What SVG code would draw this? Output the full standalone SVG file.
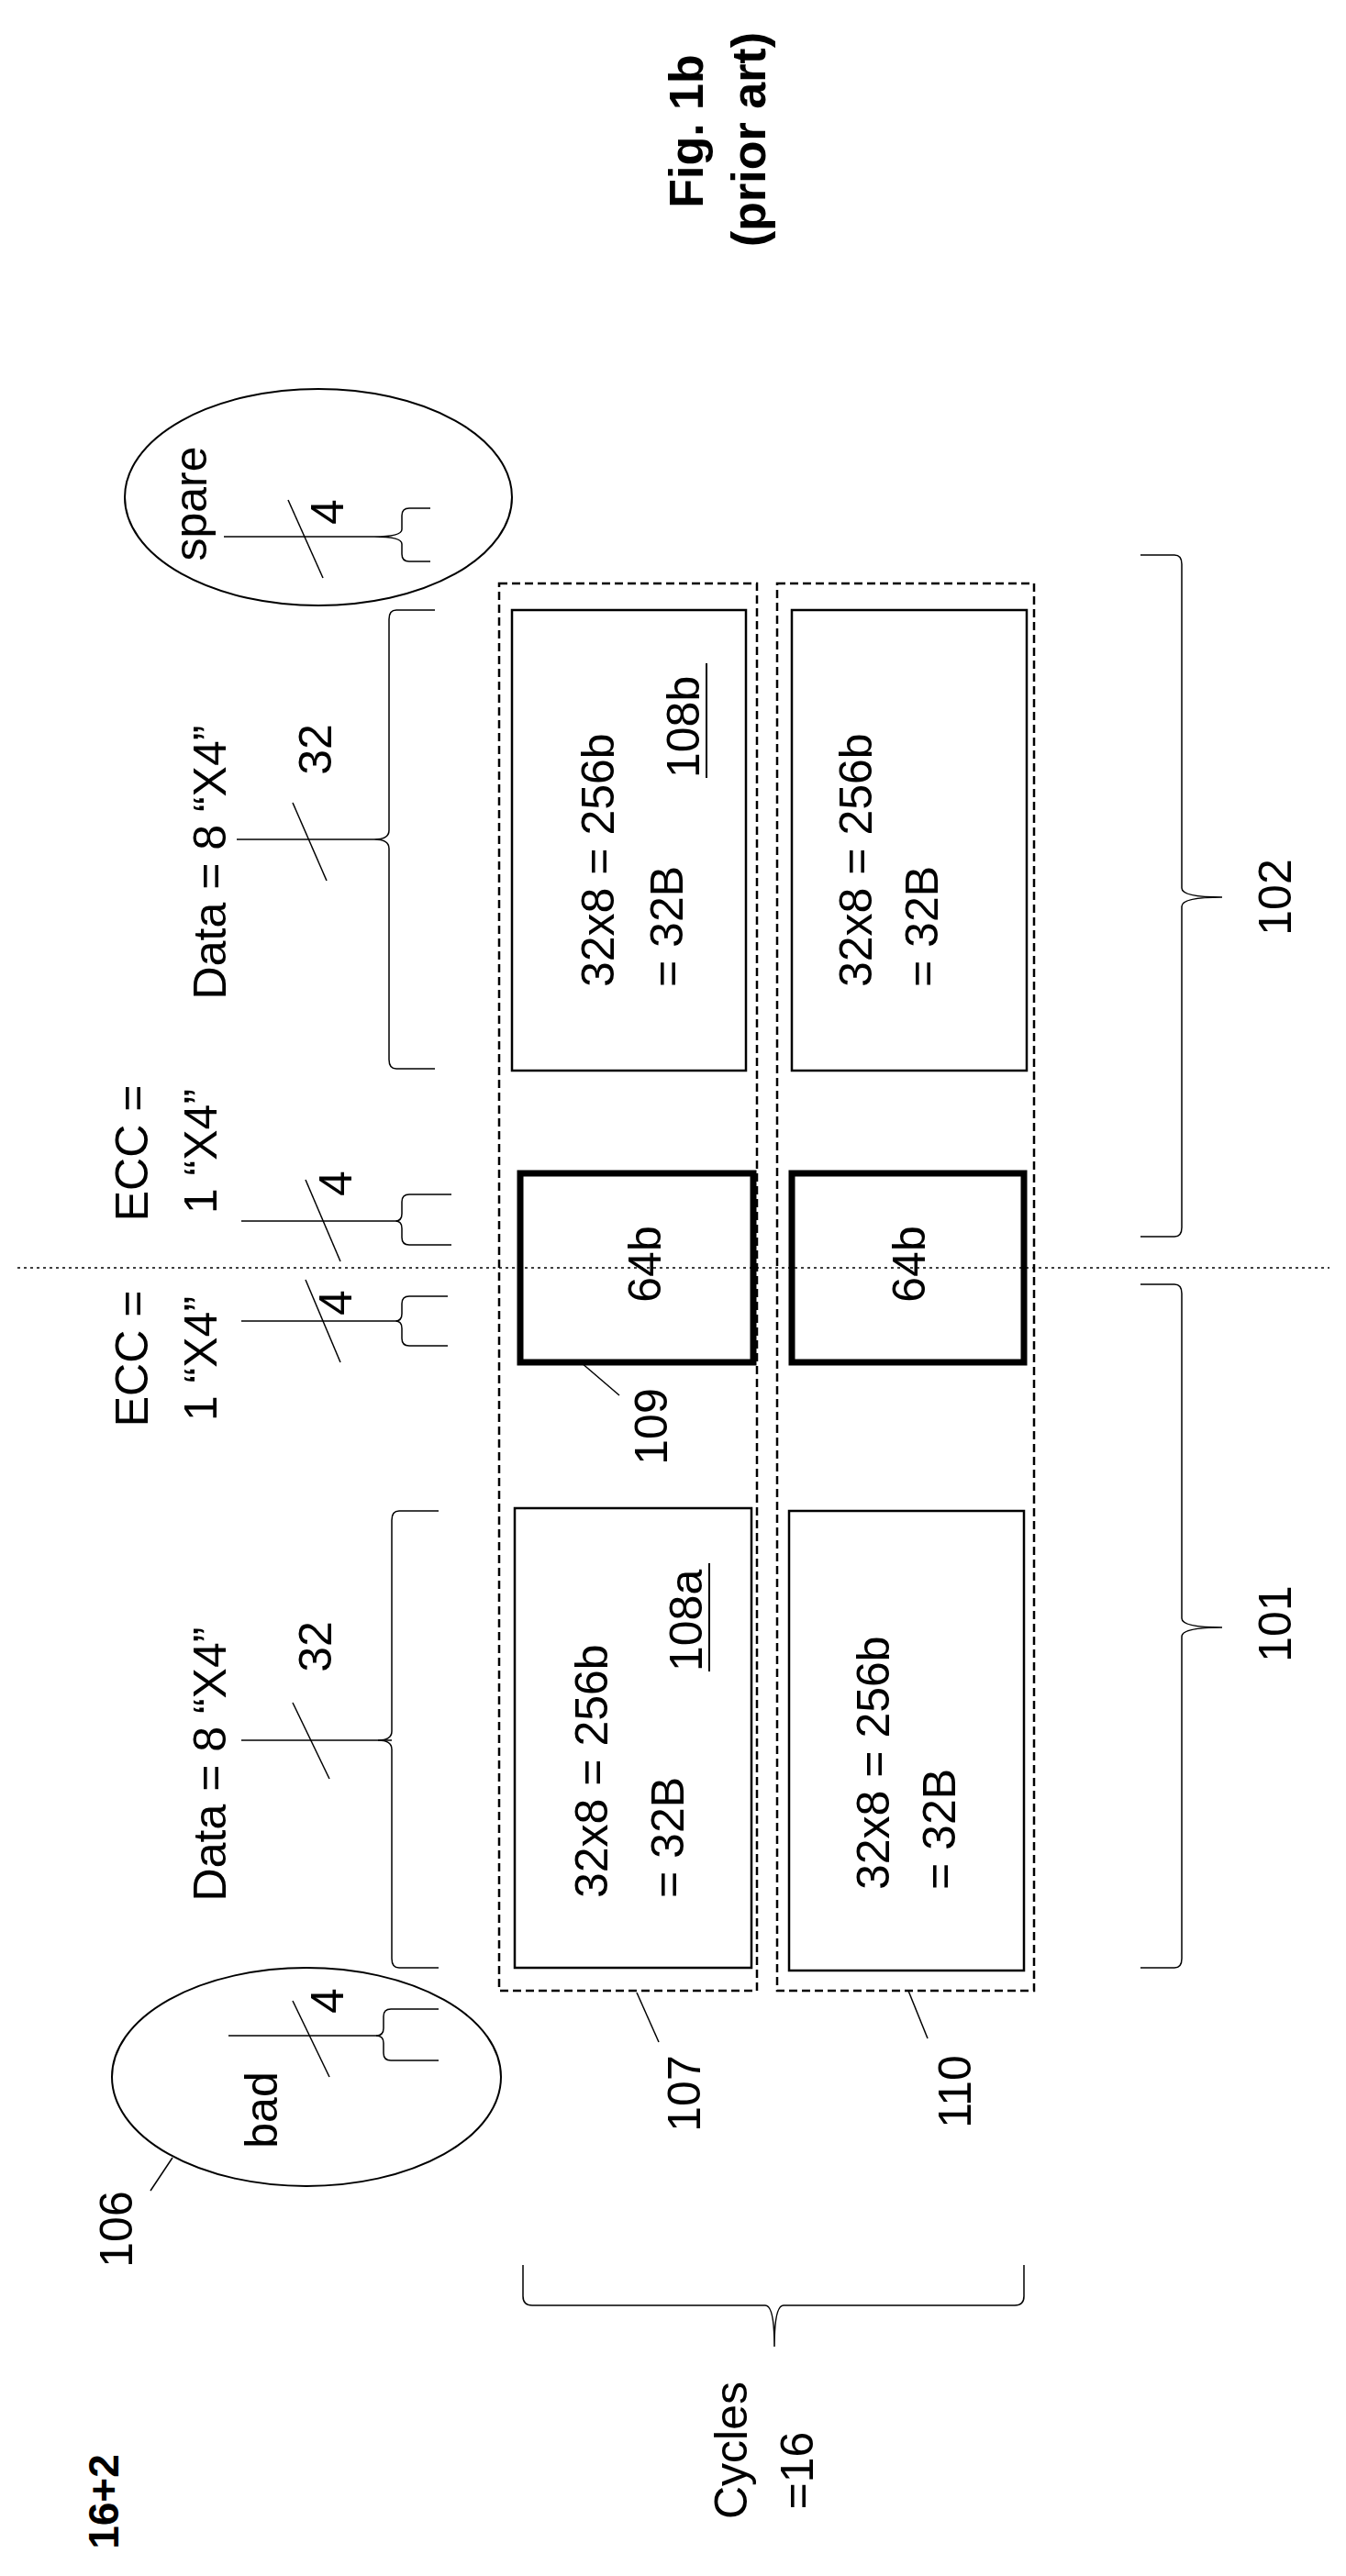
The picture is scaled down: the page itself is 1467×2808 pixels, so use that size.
<svg xmlns="http://www.w3.org/2000/svg" width="1467" height="2808" viewBox="0 0 1467 2808">
<style>
text{font-family:"Liberation Sans",Arial,sans-serif;font-size:50px;fill:#000}
.b{font-weight:bold;font-size:52px}
.ln{stroke:#000;stroke-width:2;fill:none}
.th{stroke:#000;stroke-width:1.5;fill:none}
.ds{stroke:#000;stroke-width:2.5;fill:none;stroke-dasharray:9,5}
.bx{stroke:#000;stroke-width:2.5;fill:#fff}
.tk{stroke:#000;stroke-width:7;fill:#fff}
</style>
<rect width="1467" height="2808" fill="#fff"/>
<g id="title">
<text class="b" text-anchor="middle" transform="translate(766,143) rotate(-90)">Fig. 1b</text>
<text class="b" text-anchor="middle" transform="translate(834,152) rotate(-90)">(prior art)</text>
<text class="b" text-anchor="middle" transform="translate(129,2727) rotate(-90)" style="font-size:46px">16+2</text>
</g>
<g id="dashed-rows">
<rect id="r107" class="ds" x="544" y="636" width="281" height="1534"/>
<rect id="r110" class="ds" x="847" y="636" width="280" height="1534"/>
</g>
<g id="blocks">
<g id="b108b"><rect class="bx" x="558" y="665" width="255" height="502"/>
<text transform="translate(669,1076) rotate(-90)">32x8 = 256b</text>
<text transform="translate(744,1076) rotate(-90)">= 32B</text>
<text transform="translate(762,848) rotate(-90)">108b</text>
<line class="ln" x1="770" y1="723" x2="770" y2="848"/></g>
<g id="b108b2"><rect class="bx" x="863" y="665" width="256" height="502"/>
<text transform="translate(950,1076) rotate(-90)">32x8 = 256b</text>
<text transform="translate(1022,1076) rotate(-90)">= 32B</text></g>
<g id="b108a"><rect class="bx" x="561" y="1644" width="258" height="501"/>
<text transform="translate(662,2069) rotate(-90)">32x8 = 256b</text>
<text transform="translate(745,2069) rotate(-90)">= 32B</text>
<text transform="translate(765,1822) rotate(-90)">108a</text>
<line class="ln" x1="773" y1="1704" x2="773" y2="1822"/></g>
<g id="b110"><rect class="bx" x="860" y="1647" width="256" height="501"/>
<text transform="translate(969,2060) rotate(-90)">32x8 = 256b</text>
<text transform="translate(1041,2060) rotate(-90)">= 32B</text></g>
<g id="b109"><rect class="tk" x="567" y="1279" width="254" height="206"/>
<text text-anchor="middle" transform="translate(720,1378) rotate(-90)">64b</text></g>
<g id="b109b"><rect class="tk" x="863" y="1279" width="253" height="206"/>
<text text-anchor="middle" transform="translate(1008,1378) rotate(-90)">64b</text></g>
</g>
<g id="spare"><ellipse class="ln" cx="347" cy="542" rx="211" ry="118"/>
<text text-anchor="middle" transform="translate(225,549) rotate(-90)">spare</text>
<text text-anchor="middle" transform="translate(374,558) rotate(-90)">4</text></g>
<g id="bad"><ellipse class="ln" cx="334" cy="2264" rx="212" ry="119"/>
<text text-anchor="middle" transform="translate(302,2300) rotate(-90)">bad</text>
<text text-anchor="middle" transform="translate(374,2181) rotate(-90)">4</text></g>
<g id="labels">
<text text-anchor="middle" transform="translate(246,940) rotate(-90)">Data = 8 “X4”</text>
<text text-anchor="middle" transform="translate(361,817) rotate(-90)">32</text>
<text text-anchor="middle" transform="translate(161,1257) rotate(-90)">ECC =</text>
<text text-anchor="middle" transform="translate(236,1255) rotate(-90)">1 “X4”</text>
<text text-anchor="middle" transform="translate(383,1290) rotate(-90)">4</text>
<text text-anchor="middle" transform="translate(161,1481) rotate(-90)">ECC =</text>
<text text-anchor="middle" transform="translate(236,1481) rotate(-90)">1 “X4”</text>
<text text-anchor="middle" transform="translate(383,1420) rotate(-90)">4</text>
<text text-anchor="middle" transform="translate(246,1923) rotate(-90)">Data = 8 “X4”</text>
<text text-anchor="middle" transform="translate(361,1795) rotate(-90)">32</text>
<text text-anchor="middle" transform="translate(1407,978) rotate(-90)">102</text>
<text text-anchor="middle" transform="translate(1407,1770) rotate(-90)">101</text>
<text text-anchor="middle" transform="translate(727,1555) rotate(-90)">109</text>
<text text-anchor="middle" transform="translate(144,2430) rotate(-90)">106</text>
<text text-anchor="middle" transform="translate(763,2282) rotate(-90)">107</text>
<text text-anchor="middle" transform="translate(1058,2280) rotate(-90)">110</text>
<text text-anchor="middle" transform="translate(814,2671) rotate(-90)">Cycles</text>
<text text-anchor="middle" transform="translate(886,2693) rotate(-90)">=16</text>
</g>
<g id="connectors">
<line class="th" x1="19" y1="1382" x2="1449" y2="1382" stroke-dasharray="3,4"/>
<line class="th" x1="244" y1="585" x2="408" y2="585"/><line class="th" x1="314" y1="545" x2="352" y2="630"/>
<path class="th" d="M469,554 H446 Q438,554 438,562 V577 Q438,585 408,585 Q438,585 438,593 V604 Q438,612 446,612 H469"/>
<line class="th" x1="258" y1="915" x2="408" y2="915"/><line class="th" x1="319" y1="875" x2="356" y2="960"/>
<path class="th" d="M474,665 H432 Q424,665 424,675 V905 Q424,915 408,915 Q424,915 424,925 V1155 Q424,1165 432,1165 H474"/>
<line class="th" x1="263" y1="1331" x2="431" y2="1331"/><line class="th" x1="333" y1="1286" x2="371" y2="1375"/>
<path class="th" d="M492,1302 H446 Q438,1302 438,1310 V1323 Q438,1331 431,1331 Q438,1331 438,1339 V1349 Q438,1357 446,1357 H492"/>
<line class="th" x1="263" y1="1440" x2="431" y2="1440"/><line class="th" x1="333" y1="1395" x2="371" y2="1485"/>
<path class="th" d="M488,1413 H446 Q438,1413 438,1421 V1432 Q438,1440 431,1440 Q438,1440 438,1448 V1459 Q438,1467 446,1467 H488"/>
<line class="th" x1="263" y1="1897" x2="427" y2="1897"/><line class="th" x1="319" y1="1856" x2="359" y2="1939"/>
<path class="th" d="M478,1647 H435 Q427,1647 427,1657 V1887 Q427,1897 412,1897 Q427,1897 427,1907 V2135 Q427,2145 435,2145 H478"/>
<line class="th" x1="249" y1="2219" x2="413" y2="2219"/><line class="th" x1="319" y1="2181" x2="359" y2="2264"/>
<path class="th" d="M478,2190 H426 Q418,2190 418,2198 V2211 Q418,2219 410,2219 Q418,2219 418,2227 V2238 Q418,2246 426,2246 H478"/>
<path class="th" d="M1243,605 H1280 Q1288,605 1288,615 V968 Q1288,978 1332,978 Q1288,978 1288,988 V1338 Q1288,1348 1280,1348 H1243"/>
<path class="th" d="M1243,1400 H1280 Q1288,1400 1288,1410 V1764 Q1288,1774 1332,1774 Q1288,1774 1288,1784 V2135 Q1288,2145 1280,2145 H1243"/>
<path class="th" d="M570,2469 V2503 Q570,2513 580,2513 H834 Q844,2513 844,2558 Q844,2513 854,2513 H1106 Q1116,2513 1116,2503 V2469"/>
<line class="th" x1="633" y1="1485" x2="675" y2="1521"/>
<line class="th" x1="164" y1="2388" x2="188" y2="2352"/>
<line class="th" x1="718" y1="2226" x2="694" y2="2172"/>
<line class="th" x1="1011" y1="2222" x2="990" y2="2170"/>
</g>
</svg>
